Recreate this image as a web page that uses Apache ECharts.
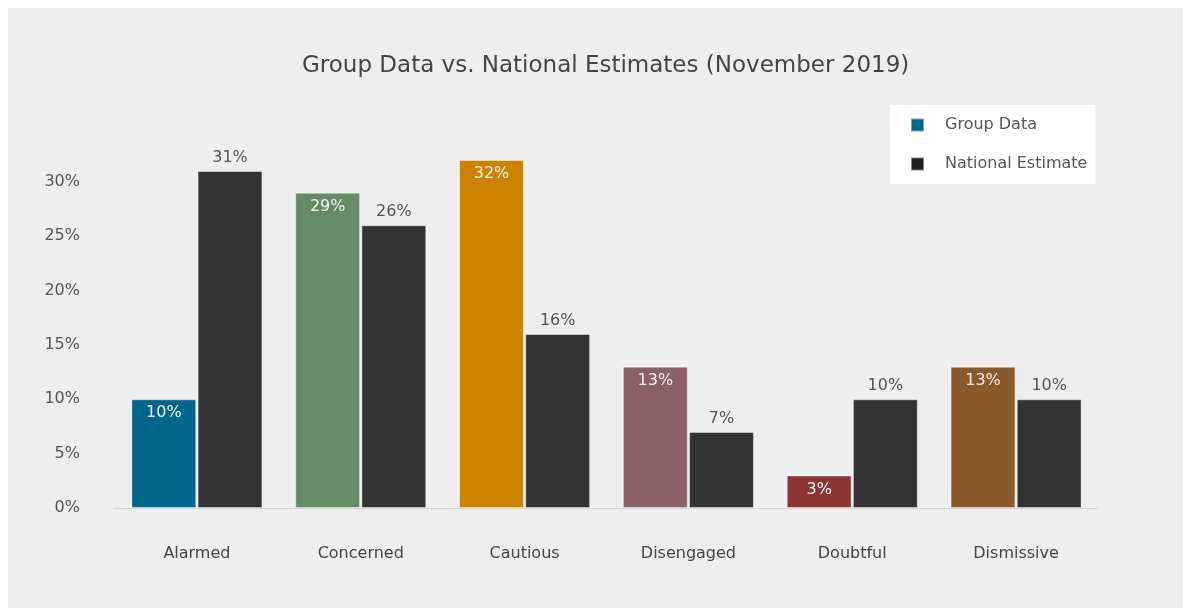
<!DOCTYPE html>
<html>
<head>
<meta charset="utf-8">
<title>Group Data vs. National Estimates</title>
<script src="https://cdn.jsdelivr.net/npm/echarts@6/dist/echarts.min.js"></script>
<style>
  html, body { margin: 0; padding: 0; background: #ffffff; }
  #chart {
    position: absolute;
    left: 8px;
    top: 8px;
    width: 1175px;
    height: 600px;
  }
</style>
</head>
<body>
<div id="chart"></div>
<script>
  // data
  const categories = ['Alarmed', 'Concerned', 'Cautious', 'Disengaged', 'Doubtful', 'Dismissive']
  const groupData = [10, 29, 32, 13, 3, 13]
  const nationalData = [31, 26, 16, 7, 10, 10]
  const groupColors = ['#00668c', '#678b67', '#cc8400', '#8b6068', '#8b3535', '#8b5a2b']

  const font = '"DejaVu Sans", Verdana, sans-serif'
  const text = '#555555'

  const chart = echarts.init(document.getElementById('chart'))

  chart.setOption({
    backgroundColor: '#eeeeee',
    textStyle: { fontFamily: font },
    title: {
      text: 'Group Data vs. National Estimates (November 2019)',
      left: 289,
      top: 42,
      textStyle: { fontFamily: font, fontSize: 23, fontWeight: 'normal', color: '#444444' },
    },
    legend: {
      orient: 'vertical',
      left: 882,
      top: 97,
      backgroundColor: '#ffffff',
      padding: [12, 8, 12, 20],
      icon: 'rect',
      itemWidth: 13,
      itemHeight: 13,
      itemGap: 23,
      textStyle: { fontFamily: font, fontSize: 16, color: text, padding: [0, 0, 0, 16] },
      data: [
        { name: 'Group Data', itemStyle: { color: groupColors[0] } },
        { name: 'National Estimate', itemStyle: { color: '#1f1f1f' } },
      ],
    },
    grid: { left: 107, right: 85, top: 152, bottom: 100 },
    xAxis: {
      type: 'category',
      data: categories,
      axisTick: { show: false },
      axisLine: { show: true, lineStyle: { color: '#d6d6d6', width: 1 } },
      axisLabel: { color: '#444444', fontSize: 16, margin: 38 },
    },
    yAxis: {
      type: 'value',
      min: 0,
      max: 32,
      interval: 5,
      splitLine: { show: false },
      axisLine: { show: false },
      axisTick: { show: false },
      axisLabel: {
        color: text,
        fontSize: 16,
        margin: 35,
        showMaxLabel: false,
        formatter: (v) => (v % 5 === 0 ? v + '%' : ''),
      },
    },
    series: [
      {
        name: 'Group Data',
        type: 'bar',
        barCategoryGap: '20%',
        barGap: '2%',
        itemStyle: { color: groupColors[0], borderColor: 'rgba(255,255,255,0.45)', borderWidth: 1 },
        data: groupData.map((v, i) => ({ value: v, itemStyle: { color: groupColors[i] } })),
        label: {
          show: true,
          position: 'insideTop',
          distance: 6,
          color: '#f2f2f2',
          fontSize: 16,
          formatter: '{c}%',
        },
      },
      {
        name: 'National Estimate',
        type: 'bar',
        itemStyle: { color: '#333333', borderColor: 'rgba(255,255,255,0.45)', borderWidth: 1 },
        data: nationalData,
        label: {
          show: true,
          position: 'top',
          distance: 5,
          color: text,
          fontSize: 16,
          formatter: '{c}%',
        },
      },
    ],
  })
</script>
</body>
</html>
